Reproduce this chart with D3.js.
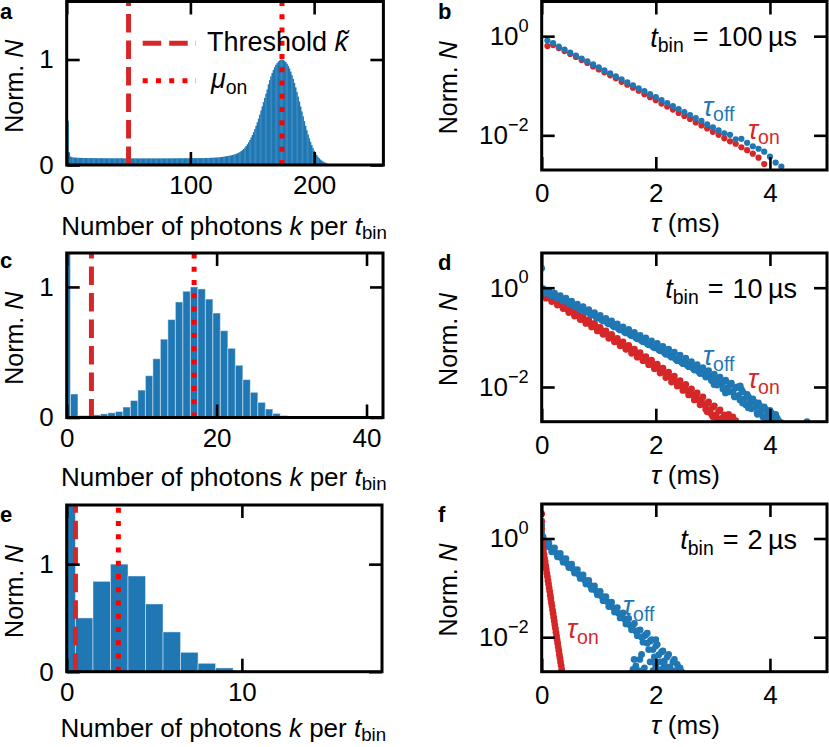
<!DOCTYPE html>
<html>
<head>
<meta charset="utf-8">
<script src="https://cdn.jsdelivr.net/npm/d3@7"></script>
<style>
  body { margin: 0; background: #fff; }
  text { font-family: "Liberation Sans", Arial, sans-serif; fill: #000; }
</style>
</head>
<body>
<svg id="fig" width="829" height="747"></svg>
<script>
"use strict";

// histogram heights (normalised), bin k = array index
const aCounts = [
  0.43, 0.42, 0.12, 0.08, 0.075, 0.072, 0.07, 0.07, 0.069, 0.068,
  0.068, 0.067, 0.068, 0.066, 0.067, 0.066, 0.066, 0.065, 0.066, 0.065,
  0.065, 0.066, 0.064, 0.065, 0.065, 0.064, 0.065, 0.064, 0.065, 0.064,
  0.064, 0.065, 0.064, 0.063, 0.064, 0.064, 0.063, 0.064, 0.063, 0.064,
  0.063, 0.064, 0.063, 0.063, 0.064, 0.063, 0.063, 0.062, 0.063, 0.063,
  0.063, 0.062, 0.063, 0.062, 0.063, 0.062, 0.063, 0.062, 0.062, 0.063,
  0.062, 0.063, 0.062, 0.062, 0.063, 0.062, 0.062, 0.063, 0.062, 0.062,
  0.063, 0.062, 0.062, 0.063, 0.062, 0.063, 0.062, 0.063, 0.063, 0.062,
  0.063, 0.063, 0.062, 0.063, 0.063, 0.064, 0.063, 0.063, 0.064, 0.063,
  0.064, 0.063, 0.064, 0.064, 0.063, 0.064, 0.064, 0.065, 0.064, 0.064,
  0.065, 0.064, 0.065, 0.065, 0.064, 0.065, 0.065, 0.066, 0.065, 0.066,
  0.066, 0.066, 0.067, 0.066, 0.067, 0.067, 0.068, 0.068, 0.069, 0.07,
  0.07, 0.071, 0.072, 0.073, 0.074, 0.076, 0.077, 0.079, 0.081, 0.083,
  0.085, 0.087, 0.089, 0.092, 0.095, 0.098, 0.102, 0.106, 0.111, 0.117,
  0.124, 0.132, 0.141, 0.152, 0.165, 0.18, 0.197, 0.216, 0.237, 0.26,
  0.285, 0.312, 0.341, 0.372, 0.405, 0.44, 0.478, 0.517, 0.556, 0.596,
  0.636, 0.676, 0.716, 0.765, 0.805, 0.84, 0.872, 0.90, 0.927, 0.95,
  0.965, 0.981, 0.992, 0.999, 1.0, 0.996, 0.988, 0.976, 0.96, 0.939,
  0.915, 0.885, 0.852, 0.816, 0.777, 0.736, 0.693, 0.648, 0.602, 0.555,
  0.508, 0.462, 0.416, 0.372, 0.33, 0.29, 0.253, 0.219, 0.188, 0.16,
  0.135, 0.113, 0.094, 0.078, 0.064, 0.052, 0.042, 0.034, 0.027, 0.021,
  0.016, 0.012, 0.009, 0.006, 0.004, 0.003, 0.002, 0.001
];
const cCounts = [
  3.0, 0.18, 0.015, 0.015, 0.02, 0.028, 0.036, 0.046, 0.08, 0.13,
  0.21, 0.32, 0.45, 0.60, 0.75, 0.885, 0.967, 1.0, 0.985, 0.907,
  0.80, 0.665, 0.53, 0.40, 0.29, 0.193, 0.116, 0.065, 0.031, 0.015,
  0.008, 0.003, 0.001
];
const eCounts = [3.0, 0.50, 0.84, 1.0, 0.89, 0.63, 0.37, 0.18, 0.078, 0.035];

// threshold k~ and mu_on per panel (a, c, e)
const thresholds = [50, 3.3, 0.5];
const muOn = [174, 17, 2.95];

// histogram axis ticks
const aTicksX = [0, 100, 200];
const cTicksX = [0, 20, 40];
const eTicksX = [0, 10];
const histTicksY = [0, 1];

// dwell-time distributions: [tau (ms), log10 Norm. N]
const bOff = [
  [0.1,-0.09],[0.2,-0.14],[0.3,-0.21],[0.4,-0.27],[0.5,-0.33],[0.6,-0.39],[0.7,-0.45],[0.8,-0.51],
  [0.9,-0.57],[1.0,-0.63],[1.1,-0.69],[1.2,-0.75],[1.3,-0.81],[1.4,-0.87],[1.5,-0.93],[1.6,-0.99],
  [1.7,-1.05],[1.8,-1.11],[1.9,-1.17],[2.0,-1.23],[2.1,-1.29],[2.2,-1.35],[2.3,-1.41],[2.4,-1.47],
  [2.5,-1.53],[2.6,-1.59],[2.7,-1.65],[2.8,-1.71],[2.9,-1.78],[3.0,-1.84],[3.1,-1.90],[3.2,-1.96],
  [3.3,-1.99],[3.4,-2.08],[3.5,-2.07],[3.6,-2.15],[3.7,-2.22],[3.8,-2.27],[3.9,-2.33],[4.0,-2.43],
  [4.1,-2.55],[4.2,-2.63],[4.3,-2.76]
];
const bOn = [
  [0.1,-0.20],[0.2,-0.18],[0.3,-0.24],[0.4,-0.30],[0.5,-0.36],[0.6,-0.42],[0.7,-0.48],[0.8,-0.54],
  [0.9,-0.61],[1.0,-0.67],[1.1,-0.73],[1.2,-0.79],[1.3,-0.85],[1.4,-0.92],[1.5,-0.98],[1.6,-1.04],
  [1.7,-1.10],[1.8,-1.17],[1.9,-1.23],[2.0,-1.29],[2.1,-1.36],[2.2,-1.42],[2.3,-1.48],[2.4,-1.55],
  [2.5,-1.61],[2.6,-1.67],[2.7,-1.74],[2.8,-1.80],[2.9,-1.86],[3.0,-1.93],[3.1,-1.99],[3.2,-2.06],
  [3.3,-2.12],[3.4,-2.17],[3.5,-2.24],[3.6,-2.30],[3.7,-2.37],[3.8,-2.45],[3.9,-2.58]
];
const dOff = [
  [0,0.39],
  [0.00,-0.04],[0.05,-0.06],[0.10,-0.08],[0.15,-0.12],[0.20,-0.13],[0.25,-0.17],[0.30,-0.19],[0.35,-0.23],
  [0.40,-0.25],[0.45,-0.29],[0.50,-0.31],[0.55,-0.35],[0.60,-0.37],[0.65,-0.41],[0.70,-0.42],[0.75,-0.47],
  [0.80,-0.48],[0.85,-0.53],[0.90,-0.54],[0.95,-0.59],[1.00,-0.60],[1.05,-0.65],[1.10,-0.66],[1.15,-0.71],
  [1.20,-0.72],[1.25,-0.77],[1.30,-0.78],[1.35,-0.83],[1.40,-0.84],[1.45,-0.89],[1.50,-0.90],[1.55,-0.95],
  [1.60,-0.96],[1.65,-1.01],[1.70,-1.02],[1.75,-1.07],[1.80,-1.08],[1.85,-1.13],[1.90,-1.14],[1.95,-1.19],
  [2.00,-1.19],[2.05,-1.25],[2.10,-1.25],[2.15,-1.31],[2.20,-1.31],[2.25,-1.37],[2.30,-1.37],[2.35,-1.44],
  [2.40,-1.43],[2.45,-1.50],[2.50,-1.48],[2.55,-1.56],[2.60,-1.53],[2.65,-1.62],[2.70,-1.60],[2.75,-1.69],
  [2.80,-1.65],[2.85,-1.75],[2.90,-1.71],[2.95,-1.81],[3.00,-1.77],[3.05,-1.88],[3.10,-1.83],[3.15,-1.94],
  [3.20,-1.89],[3.25,-2.02],[3.30,-1.96],[3.35,-2.09],[3.40,-2.02],[3.45,-2.17],[3.50,-2.05],[3.55,-2.24],
  [3.60,-2.15],[3.65,-2.32],[3.70,-2.24],[3.75,-2.40],[3.80,-2.32],[3.85,-2.48],[3.90,-2.40],[3.95,-2.56],
  [4.00,-2.47],[4.05,-2.62],[4.10,-2.55],[4.15,-2.68],
  [0.025,-0.02],[0.075,-0.11],[0.125,-0.06],[0.175,-0.16],[0.225,-0.11],[0.275,-0.21],[0.325,-0.16],
  [0.375,-0.27],[0.425,-0.21],[0.475,-0.32],[0.525,-0.27],[0.575,-0.38],[0.625,-0.33],[0.675,-0.44],
  [0.725,-0.38],[0.775,-0.49],[0.825,-0.44],[0.875,-0.55],[0.925,-0.50],[0.975,-0.61],[1.025,-0.56],
  [1.075,-0.67],[1.125,-0.62],[1.175,-0.73],[1.225,-0.67],[1.275,-0.79],[1.325,-0.73],[1.375,-0.85],
  [1.425,-0.79],[1.475,-0.91],[1.525,-0.84],[1.575,-0.97],[1.625,-0.90],[1.675,-1.03],[1.725,-0.96],
  [1.775,-1.09],[1.825,-1.01],[1.875,-1.15],[1.925,-1.07],[1.975,-1.21],[2.025,-1.12],[2.075,-1.27],
  [2.125,-1.18],[2.175,-1.34],[2.225,-1.24],[2.275,-1.40],[2.325,-1.30],[2.375,-1.47],[2.425,-1.36],
  [2.475,-1.53],[2.525,-1.42],[2.575,-1.59],[2.625,-1.49],[2.675,-1.66],[2.725,-1.55],[2.775,-1.73],
  [2.825,-1.61],[2.875,-1.80],[2.925,-1.67],[2.975,-1.87],[3.025,-1.74],[3.075,-1.96],[3.125,-1.80],
  [3.175,-2.04],[3.225,-1.86],[3.275,-2.10],[3.325,-1.92],[3.375,-2.18],[3.425,-2.00],[3.475,-2.26],
  [3.525,-2.10],[3.575,-2.36],[3.625,-2.20],[3.675,-2.44],[3.725,-2.30],[3.775,-2.52],[3.825,-2.38],
  [3.875,-2.60],[3.925,-2.45],[3.975,-2.66],[4.025,-2.52],[4.075,-2.70],[4.125,-2.62],
  [3.02,-1.95],[3.22,-2.12],[3.38,-2.20],[3.52,-2.32],[3.62,-2.42],[3.78,-2.55],[3.92,-2.62],
  [4.02,-2.66],[3.48,-1.98],[4.20,-2.72],[4.65,-2.70]
];
const dOn = [
  [0.00,-0.12],[0.05,-0.14],[0.10,-0.19],[0.15,-0.21],[0.20,-0.26],[0.25,-0.28],[0.30,-0.34],[0.35,-0.35],
  [0.40,-0.41],[0.45,-0.43],[0.50,-0.48],[0.55,-0.50],[0.60,-0.56],[0.65,-0.57],[0.70,-0.63],[0.75,-0.65],
  [0.80,-0.70],[0.85,-0.72],[0.90,-0.78],[0.95,-0.79],[1.00,-0.85],[1.05,-0.87],[1.10,-0.93],[1.15,-0.94],
  [1.20,-1.00],[1.25,-1.02],[1.30,-1.08],[1.35,-1.09],[1.40,-1.15],[1.45,-1.17],[1.50,-1.23],[1.55,-1.24],
  [1.60,-1.30],[1.65,-1.32],[1.70,-1.38],[1.75,-1.39],[1.80,-1.45],[1.85,-1.47],[1.90,-1.53],[1.95,-1.55],
  [2.00,-1.61],[2.05,-1.63],[2.10,-1.69],[2.15,-1.71],[2.20,-1.77],[2.25,-1.80],[2.30,-1.85],[2.35,-1.89],
  [2.40,-1.93],[2.45,-1.98],[2.50,-2.01],[2.55,-2.07],[2.60,-2.09],[2.65,-2.16],[2.70,-2.17],[2.75,-2.26],
  [2.80,-2.25],[2.85,-2.36],[2.90,-2.33],[2.95,-2.46],[3.00,-2.41],[3.05,-2.56],[3.10,-2.49],[3.15,-2.63],
  [3.20,-2.56],[3.25,-2.68],[3.30,-2.62],[3.40,-2.68],
  [0.025,-0.10],[0.075,-0.21],[0.125,-0.16],[0.175,-0.28],[0.225,-0.22],[0.275,-0.35],[0.325,-0.29],
  [0.375,-0.42],[0.425,-0.36],[0.475,-0.50],[0.525,-0.43],[0.575,-0.57],[0.625,-0.50],[0.675,-0.64],
  [0.725,-0.58],[0.775,-0.72],[0.825,-0.65],[0.875,-0.79],[0.925,-0.72],[0.975,-0.87],[1.025,-0.80],
  [1.075,-0.94],[1.125,-0.87],[1.175,-1.02],[1.225,-0.94],[1.275,-1.09],[1.325,-1.02],[1.375,-1.17],
  [1.425,-1.09],[1.475,-1.24],[1.525,-1.16],[1.575,-1.32],[1.625,-1.24],[1.675,-1.40],[1.725,-1.31],
  [1.775,-1.47],[1.825,-1.39],[1.875,-1.55],[1.925,-1.46],[1.975,-1.63],[2.025,-1.54],[2.075,-1.72],
  [2.125,-1.62],[2.175,-1.81],[2.225,-1.70],[2.275,-1.90],[2.325,-1.78],[2.375,-1.98],[2.425,-1.87],
  [2.475,-2.07],[2.525,-1.95],[2.575,-2.16],[2.625,-2.04],[2.675,-2.26],[2.725,-2.12],[2.775,-2.36],
  [2.825,-2.20],[2.875,-2.45],[2.925,-2.30],[2.975,-2.55],[3.025,-2.38],[3.075,-2.64],[3.125,-2.46],
  [3.175,-2.70],[3.275,-2.55],[3.35,-2.60],
  [2.90,-2.50],[3.00,-2.60],[3.20,-2.70]
];
const fOff = [
  [0,0.27],[0,0.12],[0,0.05],
  [0.00,-0.02],[0.05,-0.08],[0.10,-0.12],[0.15,-0.18],[0.20,-0.22],[0.25,-0.29],[0.30,-0.33],[0.35,-0.40],
  [0.40,-0.44],[0.45,-0.51],[0.50,-0.55],[0.55,-0.62],[0.60,-0.66],[0.65,-0.73],[0.70,-0.77],[0.75,-0.84],
  [0.80,-0.88],[0.85,-0.95],[0.90,-0.99],[0.95,-1.06],[1.00,-1.10],[1.05,-1.17],[1.10,-1.21],[1.15,-1.28],
  [1.20,-1.32],[1.25,-1.40],[1.30,-1.43],[1.35,-1.52],[1.40,-1.54],[1.45,-1.63],[1.50,-1.65],[1.55,-1.76],
  [1.60,-1.76],[1.65,-1.88],[1.70,-1.86],[1.75,-2.00],[1.80,-1.97],[1.85,-2.12],[1.90,-2.08],[1.95,-2.25],
  [2.00,-2.18],[2.05,-2.36],[2.10,-2.30],[2.15,-2.48],[2.20,-2.40],[2.25,-2.60],[2.30,-2.50],[2.40,-2.62],
  [0.025,0.03],[0.075,-0.16],[0.125,-0.09],[0.175,-0.27],[0.225,-0.19],[0.275,-0.37],[0.325,-0.30],
  [0.375,-0.48],[0.425,-0.41],[0.475,-0.59],[0.525,-0.52],[0.575,-0.70],[0.625,-0.63],[0.675,-0.81],
  [0.725,-0.74],[0.775,-0.92],[0.825,-0.85],[0.875,-1.03],[0.925,-0.96],[0.975,-1.14],[1.025,-1.07],
  [1.075,-1.26],[1.125,-1.18],[1.175,-1.38],[1.225,-1.29],[1.275,-1.49],[1.325,-1.40],[1.375,-1.61],
  [1.425,-1.51],[1.475,-1.73],[1.525,-1.62],[1.575,-1.85],[1.625,-1.72],[1.675,-1.97],[1.725,-1.85],
  [1.775,-2.10],[1.825,-1.95],[1.875,-2.25],[1.925,-2.05],[1.975,-2.40],[2.025,-2.15],[2.075,-2.50],
  [2.125,-2.28],[2.175,-2.62],[2.225,-2.35],[2.275,-2.68],[2.325,-2.45],[2.375,-2.55],[2.425,-2.62],
  [1.60,-2.65],[1.65,-2.58],[1.70,-2.68],[1.80,-2.62],[1.95,-2.68],[2.05,-2.70],[2.15,-2.56],[2.35,-2.68],
  [1.72,-2.45],[1.98,-2.52],[1.62,-2.45],[1.75,-2.35],[1.90,-2.50],[2.00,-2.60],[2.10,-2.65],[1.85,-1.92],
  [2.00,-2.05],[2.45,-2.70]
];
const fOn = [
  [0,0.50],[0,0.35],[0,0.20],
  [0.00,-0.02],[0.01,-0.10],[0.02,-0.17],[0.03,-0.25],[0.04,-0.32],[0.05,-0.40],[0.06,-0.47],[0.07,-0.55],
  [0.08,-0.62],[0.09,-0.70],[0.10,-0.77],[0.11,-0.85],[0.12,-0.92],[0.13,-1.00],[0.14,-1.07],[0.15,-1.15],
  [0.16,-1.22],[0.17,-1.30],[0.18,-1.37],[0.19,-1.45],[0.20,-1.52],[0.21,-1.60],[0.22,-1.67],[0.23,-1.75],
  [0.24,-1.82],[0.25,-1.90],[0.26,-1.97],[0.27,-2.05],[0.28,-2.12],[0.29,-2.20],[0.30,-2.27],[0.31,-2.35],
  [0.32,-2.42],[0.33,-2.50],[0.34,-2.57],[0.35,-2.65],[0.36,-2.72]
];
const tauTicksX = [0, 2, 4];
const logTicksY = [1, 0.01];
const binLabels = ["100", "10", "2"];

const BLUE = "#1f77b4", RED = "#d62728";
const TICK = 26, LAB = 26;

const svg = d3.select("#fig");

// draws spines + inward ticks on all four sides
function frame(g, box, x, y, xTicks, yTicks, xPad, yFmt) {
  const tl = 13;
  const bottom = g.append("g").attr("transform", `translate(0,${box.b})`)
    .call(d3.axisBottom(x).tickValues(xTicks).tickSize(-tl).tickPadding(xPad).tickFormat(d3.format("d")));
  const top = g.append("g").attr("transform", `translate(0,${box.t})`)
    .call(d3.axisTop(x).tickValues(xTicks).tickSize(-tl).tickFormat(""));
  const left = g.append("g").attr("transform", `translate(${box.l},0)`)
    .call(d3.axisLeft(y).tickValues(yTicks).tickSize(-tl).tickPadding(13).tickFormat(yFmt || d3.format("d")));
  const right = g.append("g").attr("transform", `translate(${box.r},0)`)
    .call(d3.axisRight(y).tickValues(yTicks).tickSize(-tl).tickFormat(""));
  [bottom, top, left, right].forEach(a => {
    a.select(".domain").remove();
    a.selectAll(".tick line").attr("stroke", "#000").attr("stroke-width", 2.6);
    a.selectAll("text").attr("font-size", TICK).attr("font-family", '"Liberation Sans", Arial, sans-serif').attr("fill", "#000");
  });
  g.append("rect").attr("x", box.l).attr("y", box.t).attr("width", box.r - box.l).attr("height", box.b - box.t)
    .attr("fill", "none").attr("stroke", "#000").attr("stroke-width", 3);
  return left;
}

function clipFor(id, box) {
  svg.append("clipPath").attr("id", id).append("rect")
    .attr("x", box.l).attr("y", box.t).attr("width", box.r - box.l).attr("height", box.b - box.t);
  return `url(#${id})`;
}

function yLabel(g, x, cy) {
  const t = g.append("text").attr("transform", `translate(${x},${cy}) rotate(-90)`)
    .attr("text-anchor", "middle").attr("font-size", 25);
  t.append("tspan").text("Norm. ");
  t.append("tspan").attr("font-style", "italic").text("N");
}

function letter(g, x, y, s) {
  g.append("text").attr("x", x).attr("y", y).attr("font-size", 22).attr("font-weight", "bold").text(s);
}

function histPanel(id, box, counts, xDom, yDom, xTicks, thr, mu, name, letterY, labelY) {
  const g = svg.append("g");
  const x = d3.scaleLinear().domain(xDom).range([box.l, box.r]);
  const y = d3.scaleLinear().domain(yDom).range([box.b, box.t]);
  const cp = clipFor(id, box);
  const data = counts.map((v, k) => ({ k, v }));
  const dense = counts.length > 100;
  const bars = g.append("g").attr("clip-path", cp);
  bars.selectAll("rect").data(data).join("rect")
    .attr("x", d => x(d.k - 0.5)).attr("width", d => x(d.k + 0.5) - x(d.k - 0.5) + (dense ? 0.3 : 0))
    .attr("y", d => y(d.v)).attr("height", d => y(0) - y(d.v))
    .attr("fill", BLUE)
    .attr("stroke", dense ? "none" : "rgba(255,255,255,0.45)")
    .attr("stroke-width", 1);
  const lines = g.append("g").attr("clip-path", cp);
  lines.append("line").attr("x1", x(thr)).attr("x2", x(thr)).attr("y1", box.b).attr("y2", box.t)
    .attr("stroke", RED).attr("stroke-width", 5).attr("stroke-dasharray", "18.5,8");
  lines.append("line").attr("x1", x(mu)).attr("x2", x(mu)).attr("y1", box.b).attr("y2", box.t)
    .attr("stroke", "#ff0000").attr("stroke-width", 5).attr("stroke-dasharray", "5,8.25");
  frame(g, box, x, y, xTicks, histTicksY, 11);
  yLabel(g, 22.5, (box.t + box.b) / 2 + 3);
  const xl = g.append("text").attr("x", (box.l + box.r) / 2 - 1).attr("y", labelY)
    .attr("text-anchor", "middle").attr("font-size", LAB);
  xl.append("tspan").text("Number of photons ");
  xl.append("tspan").attr("font-style", "italic").text("k");
  xl.append("tspan").text(" per ");
  xl.append("tspan").attr("font-style", "italic").text("t");
  xl.append("tspan").attr("font-size", "0.72em").attr("dy", "0.22em").text("bin");
  letter(g, 0, letterY, name);
  return { g, x, y };
}

function logFmt(g) {
  g.selectAll(".tick text").each(function (d) {
    const t = d3.select(this);
    const e = Math.round(Math.log10(d));
    t.text(null);
    t.append("tspan").text("10");
    t.append("tspan").attr("font-size", "0.7em").attr("dy", "-0.72em").text(e < 0 ? "\u2212" + (-e) : e);
  });
}

function tauPanel(id, box, off, on, onTop, name, letterY, bin, offPos, onPos) {
  const g = svg.append("g");
  const x = d3.scaleLinear().domain([0, 5]).range([box.l, box.r]);
  const y = d3.scaleLog().domain([0.002, 5]).range([box.b, box.t]);
  const cp = clipFor(id, box);
  const dots = g.append("g").attr("clip-path", cp);
  const series = onTop ? [[off, BLUE], [on, RED]] : [[on, RED], [off, BLUE]];
  const r = off.length > 60 ? 3.4 : 3.1;
  series.forEach(([pts, col]) => {
    dots.append("g").selectAll("circle").data(pts).join("circle")
      .attr("cx", d => x(d[0])).attr("cy", d => y(Math.pow(10, d[1])))
      .attr("r", r).attr("fill", col);
  });
  const left = frame(g, box, x, y, tauTicksX, logTicksY, 14, d => d);
  logFmt(left);
  yLabel(g, 457, (box.t + box.b) / 2 + 2);
  const xl = g.append("text").attr("x", (box.l + box.r) / 2 + 1).attr("y", box.b + 62)
    .attr("text-anchor", "middle").attr("font-size", LAB);
  xl.append("tspan").attr("font-style", "italic").text("\u03c4");
  xl.append("tspan").text(" (ms)");
  letter(g, 438, letterY, name);

  const ann = g.append("text").attr("x", 797).attr("y", box.t + 45)
    .attr("text-anchor", "end").attr("font-size", 27);
  ann.append("tspan").attr("font-style", "italic").text("t");
  ann.append("tspan").attr("font-size", "0.72em").attr("dy", "0.3em").text("bin");
  ann.append("tspan").attr("dy", "-0.22em").text("\u2004=\u2004" + bin + "\u2009\u00b5s");

  [[offPos, "off", BLUE], [onPos, "on", RED]].forEach(([p, s, col]) => {
    const t = g.append("text").attr("x", p[0]).attr("y", box.t + p[1]).attr("font-size", 27);
    t.append("tspan").attr("font-style", "italic").attr("fill", col).text("\u03c4");
    t.append("tspan").attr("font-size", "0.72em").attr("dy", "0.3em").attr("fill", col).text(s);
  });
}

const A = { l: 66.7, r: 383.4, t: 1.5, b: 165 };
const C = { l: 66.7, r: 383, t: 253, b: 417.5 };
const E = { l: 66.7, r: 382, t: 505, b: 671.7 };
const B = { l: 541.7, r: 827, t: 1.5, b: 170 };
const D = { l: 541.7, r: 827, t: 253, b: 421.7 };
const F = { l: 541.7, r: 827, t: 504, b: 671.7 };

const pa = histPanel("ca", A, aCounts, [0, 256], [0, 1.55], aTicksX, thresholds[0], muOn[0], "a", 18.5, 235);
histPanel("cc", C, cCounts, [0, 42.2], [0, 1.26], cTicksX, thresholds[1], muOn[1], "c", 268, 486);
histPanel("ce", E, eCounts, [0, 18], [0, 1.55], eTicksX, thresholds[2], muOn[2], "e", 522, 737);

// legend in panel a
const lg = pa.g.append("g");
lg.append("line").attr("x1", 142.7).attr("x2", 196).attr("y1", 43.3).attr("y2", 43.3)
  .attr("stroke", RED).attr("stroke-width", 5).attr("stroke-dasharray", "18.5,8");
lg.append("line").attr("x1", 142.7).attr("x2", 196).attr("y1", 80.7).attr("y2", 80.7)
  .attr("stroke", "#ff0000").attr("stroke-width", 5).attr("stroke-dasharray", "5,8.25");
const l1 = lg.append("text").attr("x", 207).attr("y", 51).attr("font-size", 27);
l1.append("tspan").text("Threshold ");
l1.append("tspan").attr("font-style", "italic").text("k\u0303");
const l2 = lg.append("text").attr("x", 211).attr("y", 88).attr("font-size", 27);
l2.append("tspan").attr("font-style", "italic").text("\u03bc");
l2.append("tspan").attr("font-size", "0.72em").attr("dy", "0.3em").text("on");

tauPanel("cb", B, bOff, bOn, false, "b", 18.5, binLabels[0], [703, 114], [748, 137]);
tauPanel("cd", D, dOff, dOn, false, "d", 270, binLabels[1], [703, 112], [748, 135]);
tauPanel("cf", F, fOff, fOn, true, "f", 522, binLabels[2], [623, 111], [567, 134]);
</script>
</body>
</html>
